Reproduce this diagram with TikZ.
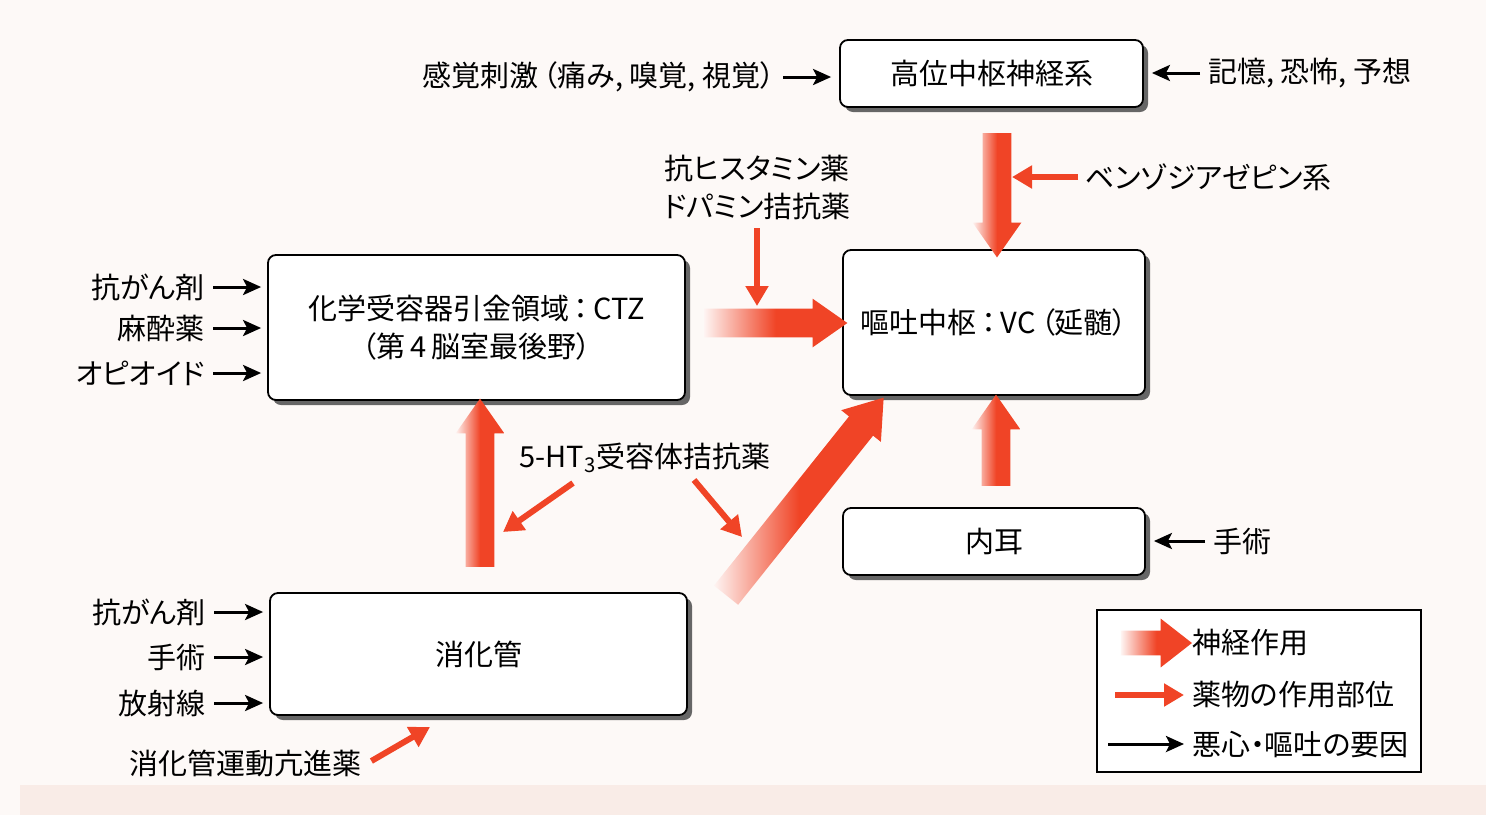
\documentclass[tikz,border=0pt]{standalone}
\usepackage{fontspec}
\setmainfont{Noto Sans CJK JP}[RawFeature=+palt]
\usetikzlibrary{arrows.meta,shapes.arrows,shadows,calc}
\definecolor{ared}{RGB}{240,68,38}
\definecolor{bgc}{RGB}{253,249,247}
\definecolor{bgstrip}{RGB}{249,236,231}
\pgfdeclarehorizontalshading{bigfade}{100bp}{color(0bp)=(ared!6); color(25bp)=(ared!6); color(50bp)=(ared); color(100bp)=(ared)}
\newcommand\fs{\fontsize{14.5}{19}\selectfont}
\newcommand\bigarrowbetween[4][]{%
  \path let \p1=(#3), \p2=(#4),
    \n1={atan2(\y2-\y1,\x2-\x1)},
    \n2={veclen(\x2-\x1,\y2-\y1)} in
    node[bigarr, #1, rotate=\n1, minimum height=\n2] (#2) at ($(#3)!0.5!(#4)$) {};}
\begin{document}
\begin{tikzpicture}[x=0.5pt,y=-0.5pt,
  box/.style={draw, line width=0.9pt, rounded corners=4pt, fill=white, align=center,
    font=\fs, inner sep=0pt,
    drop shadow={shadow xshift=2.5pt, shadow yshift=-2.5pt, fill=black!60, opacity=1}},
  lab/.style={font=\fs, inner sep=0pt, align=center},
  blk/.style={line width=1.5pt, -{Stealth[length=9pt,width=8pt,inset=2pt]}},
  rar/.style={draw=ared, line width=3pt, -{Triangle[length=10pt,width=11pt]}},
  bigarr/.style={single arrow, draw=none, inner xsep=0pt, inner ysep=7pt,
    single arrow head extend=5pt, single arrow tip angle=70,
    minimum width=0pt, shading=bigfade}]
% background
\fill[bgc] (0,0) rectangle (1486,815);
\fill[bgstrip] (20,785) rectangle (1486,815);
\useasboundingbox (0,0) rectangle (1486,815);

% boxes
\node[box, minimum width=151.5pt, minimum height=33.5pt] (hi) at (991.5,73.5) {高位中枢神経系};
\node[box, minimum width=208.5pt, minimum height=72.5pt] (ctz) at (476.5,327.5) {化学受容器引金領域\,：\,CTZ\\（第\,4\,脳室最後野）};
\node[box, minimum width=151pt, minimum height=72.5pt] (vc) at (994,322.5) {嘔吐中枢\,：\,VC\,（延髄）};
\node[box, minimum width=151pt, minimum height=33.5pt] (ne) at (994,541.5) {内耳};
\node[box, minimum width=208.5pt, minimum height=61pt] (gi) at (478.5,654) {消化管};

% big (neural) arrows
\bigarrowbetween{a1}{$(hi.south)+(5.5,15)$}{$(vc.north)+(3,-2)$}
\bigarrowbetween{a2}{$(ctz.east)+(8,-4.5)$}{$(vc.west)+(-5,0.5)$}
\bigarrowbetween{a3}{$(ne.north)+(2,-11)$}{$(vc.south)+(2,9)$}
\bigarrowbetween{a4}{$(gi.north)+(1.5,-15)$}{$(ctz.south)+(3.5,8)$}
\bigarrowbetween[inner ysep=7.5pt]{a5}{$(gi.north east)+(31,12)$}{$(vc.south west)+(35,10)$}

% top labels
\node[lab, anchor=east] (sens) at (775,77) {感覚刺激\,（痛み, 嗅覚, 視覚）};
\draw[blk] ([xshift=4pt]sens.east) -- ([xshift=-4pt]sens.east -| hi.west);
\node[lab, anchor=west] (mem) at (1208,73) {記憶, 恐怖, 予想};
\draw[blk] ([xshift=-4pt]mem.west) -- ([xshift=4pt]mem.west -| hi.east);

% drug labels
\node[lab, anchor=west] (bz) at (1085,177) {ベンゾジアゼピン系};
\coordinate (bzt) at (1012,177);
\draw[rar] ([xshift=-3.5pt]bz.west) -- (bzt);

\node[lab] (ah) at (757,187) {抗ヒスタミン薬\\ドパミン拮抗薬};
\coordinate (ahs) at (757,228);
\coordinate (ahe) at (757,306);
\draw[rar] (ahs) -- (ahe);

\node[lab] (ht) at (645,458) {5-HT\textsubscript{3}受容体拮抗薬};
\coordinate (ht1s) at (573,483); \coordinate (ht1e) at (503,532);
\coordinate (ht2s) at (694,480); \coordinate (ht2e) at (742,537);
\draw[rar] (ht1s) -- (ht1e);
\draw[rar] (ht2s) -- (ht2e);

\node[lab] (mo) at (245,763) {消化管運動亢進薬};
\coordinate (mot) at (430,727);
\draw[rar] ([xshift=5pt,yshift=1pt]mo.east) -- (mot);

% CTZ causes
\node[lab, anchor=east] (c1) at (205,287) {抗がん剤};
\node[lab, anchor=east] (c2) at (205,328) {麻酔薬};
\node[lab, anchor=east] (c3) at (205,373) {オピオイド};
\foreach \n in {c1,c2,c3}
  \draw[blk] ([xshift=4pt]\n.east) -- ([xshift=-3pt]\n.east -| ctz.west);

% GI causes
\node[lab, anchor=east] (g1) at (206,612) {抗がん剤};
\node[lab, anchor=east] (g2) at (206,657) {手術};
\node[lab, anchor=east] (g3) at (206,703) {放射線};
\foreach \n in {g1,g2,g3}
  \draw[blk] ([xshift=4pt]\n.east) -- ([xshift=-3pt]\n.east -| gi.west);

% inner ear cause
\node[lab, anchor=west] (op) at (1213,541) {手術};
\draw[blk] ([xshift=-4pt]op.west) -- ([xshift=4pt]op.west -| ne.east);

% legend
\node[draw, line width=0.6pt, fill=white, minimum width=162pt, minimum height=81pt, inner sep=0pt] (lg) at (1259,691) {};
\coordinate (l1s) at (1113,643); \coordinate (l1e) at (1184,643);
\bigarrowbetween[inner ysep=6pt, single arrow head extend=6pt, single arrow tip angle=76]{la}{l1s}{l1e}
\node[lab, anchor=west] (lt1) at (1192,643) {神経作用};
\coordinate (l2s) at (1115,695);
\node[lab, anchor=west] (lt2) at (1192,695) {薬物の作用部位};
\draw[rar] (l2s) -- ([xshift=-4pt]lt2.west);
\coordinate (l3s) at (1108,744);
\node[lab, anchor=west] (lt3) at (1192,745) {悪心・嘔吐の要因};
\draw[blk] (l3s) -- ([xshift=-4pt]lt3.west |- l3s);
\end{tikzpicture}
\end{document}
